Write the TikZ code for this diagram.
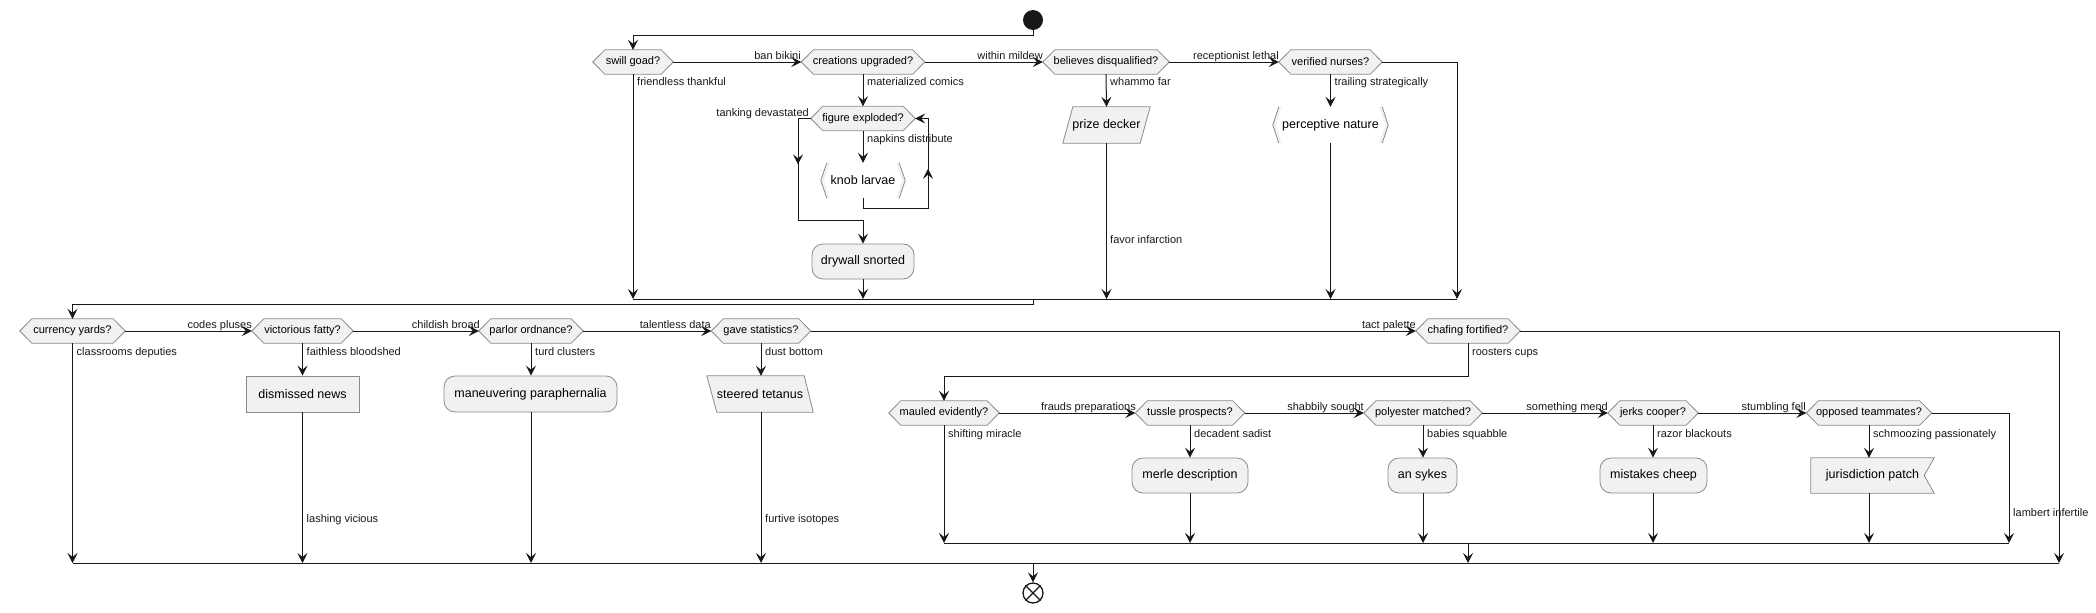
\documentclass[tikz,border=0pt]{standalone}
\usepackage{fontspec}
\setmainfont{Liberation Sans}
\usetikzlibrary{arrows.meta,backgrounds,decorations.markings,calc}
\definecolor{shfill}{HTML}{F1F1F1}
\definecolor{shline}{HTML}{8A8A8A}
\definecolor{ln}{HTML}{181818}
\tikzset{
  flow/.style={draw=ln,line width=1pt,-{Stealth[length=10pt,width=10pt,inset=4pt]}},
  plain/.style={draw=ln,line width=1pt},
  midarr/.style={postaction={decorate},decoration={markings,mark=at position #1 with {\arrow[ln]{Stealth[length=10pt,width=10pt,inset=4pt]}}}},
  hexn/.style={rectangle,draw=none,inner sep=0pt,minimum height=24pt,font=\fontsize{11}{13}\selectfont},
  actn/.style={rectangle,draw=none,inner sep=0pt,minimum height=36pt,font=\fontsize{12.5}{15}\selectfont},
  roundact/.style={actn,draw=shline,fill=shfill,line width=0.8pt,rounded corners=11pt},
  rectact/.style={actn,draw=shline,fill=shfill,line width=0.8pt},
  shp/.style={draw=shline,fill=shfill,line width=0.8pt},
  lbl/.style={inner sep=0pt,font=\fontsize{11}{13}\selectfont,text=ln},
}
\begin{document}
\begin{tikzpicture}[x=1pt,y=-1pt]
\useasboundingbox (0,0) rectangle (2096,613);

% start / end
\node[circle,fill=ln,draw=none,minimum size=20pt,inner sep=0pt] (start) at (1033,20) {};
\node[circle,fill=white,draw=ln,line width=1.3pt,minimum size=20pt,inner sep=0pt] (endc) at (1033,593) {};
\draw[ln,line width=1.3pt] (endc.north west) -- (endc.south east) (endc.north east) -- (endc.south west);

% row 1 decisions
\node[hexn,minimum width=80pt] (d1) at (633,62) {swill goad?};
\node[hexn,minimum width=123pt] (d2) at (863,62) {creations upgraded?};
\node[hexn,minimum width=126pt] (d3) at (1106,62) {believes disqualified?};
\node[hexn,minimum width=103pt] (d4) at (1330.5,62) {verified nurses?};
\node[hexn,minimum width=104pt] (d5) at (863,118.5) {figure exploded?};

% row 1 activities
\node[actn,minimum width=84pt,minimum height=35pt] (a1) at (863,180.5) {knob larvae};
\node[roundact,minimum width=102pt,minimum height=35pt] (a2) at (863,261.5) {drywall snorted};
\node[actn,minimum width=87pt] (a3) at (1106.5,125) {prize decker};
\node[actn,minimum width=115pt] (a4) at (1330.5,125) {perceptive nature};

% row 2 decisions
\node[hexn,minimum width=105pt] (d6) at (72.5,331) {currency yards?};
\node[hexn,minimum width=101pt] (d7) at (302.5,331) {victorious fatty?};
\node[hexn,minimum width=104pt] (d8) at (531,331) {parlor ordnance?};
\node[hexn,minimum width=99pt] (d9) at (761,331) {gave statistics?};
\node[hexn,minimum width=104pt] (d10) at (1468,331) {chafing fortified?};

% row 2 activities
\node[rectact,minimum width=113pt] (a5) at (302.5,394) {dismissed news};
\node[roundact,minimum width=173pt] (a6) at (530.5,394) {maneuvering paraphernalia};
\node[actn,minimum width=106pt] (a7) at (760,394) {steered tetanus};

% row 3 decisions
\node[hexn,minimum width=110pt] (d11) at (944,413) {mauled evidently?};
\node[hexn,minimum width=109pt] (d12) at (1190,413) {tussle prospects?};
\node[hexn,minimum width=118pt] (d13) at (1423,413) {polyester matched?};
\node[hexn,minimum width=90pt] (d14) at (1653,413) {jerks cooper?};
\node[hexn,minimum width=125pt] (d15) at (1869,413) {opposed teammates?};

% row 3 activities
\node[roundact,minimum width=116pt,minimum height=35pt] (a8) at (1190,475.5) {merle description};
\node[roundact,minimum width=69pt,minimum height=35pt] (a9) at (1422.5,475.5) {an sykes};
\node[roundact,minimum width=107pt,minimum height=35pt] (a10) at (1653.5,475.5) {mistakes cheep};
\node[actn,minimum width=123pt,minimum height=35pt] (a11) at (1872.5,475.5) {jurisdiction patch};

% background shapes
\begin{pgfonlayer}{background}
\foreach \n in {d1,d2,d3,d4,d5,d6,d7,d8,d9,d10,d11,d12,d13,d14,d15}{
  \filldraw[shp] (\n.west) -- ([xshift=12pt]\n.north west) -- ([xshift=-12pt]\n.north east) -- (\n.east) -- ([xshift=-12pt]\n.south east) -- ([xshift=12pt]\n.south west) -- cycle;
}
% parallelograms
\filldraw[shp] (a3.south west) -- ([xshift=10pt]a3.north west) -- (a3.north east) -- ([xshift=-10pt]a3.south east) -- cycle;
\filldraw[shp] (a7.north west) -- ([xshift=-9pt]a7.north east) -- (a7.south east) -- ([xshift=10pt]a7.south west) -- cycle;
% flag
\filldraw[shp] (a11.north west) -- (a11.north east) -- ([xshift=-10pt]a11.east) -- (a11.south east) -- (a11.south west) -- cycle;
% brackets
\foreach \n in {a1,a4}{
  \fill[shfill] ([xshift=6pt]\n.north west) -- (\n.west) -- ([xshift=6pt]\n.south west) -- ([xshift=9pt]\n.south west) -- ([xshift=3pt]\n.west) -- ([xshift=9pt]\n.north west) -- cycle;
  \fill[shfill] ([xshift=-6pt]\n.north east) -- (\n.east) -- ([xshift=-6pt]\n.south east) -- ([xshift=-9pt]\n.south east) -- ([xshift=-3pt]\n.east) -- ([xshift=-9pt]\n.north east) -- cycle;
  \draw[shline,line width=0.8pt] ([xshift=6pt]\n.north west) -- (\n.west) -- ([xshift=6pt]\n.south west);
  \draw[shline,line width=0.8pt] ([xshift=-6pt]\n.north east) -- (\n.east) -- ([xshift=-6pt]\n.south east);
}
\end{pgfonlayer}

% junction coordinates
\coordinate (j1) at (1033,299);
\coordinate (j2) at (1033,563);
\coordinate (j3) at (1468,543);
\coordinate (d4r) at (1457,62);
\coordinate (d10r) at (2059,331);
\coordinate (d15r) at (2009,413);
\coordinate (lp) at (928,208);
\coordinate (lq) at (798,220);

% row 1 connectors
\draw[flow] (start.south) -- ++(0,5) -| (d1.north);
\draw[flow] (d1.east) -- (d2.west);
\draw[flow] (d2.east) -- (d3.west);
\draw[flow] (d3.east) -- (d4.west);
\draw[flow] (d4.east) -- (d4r) -- (d4r |- j1);
\draw[flow] (d1.south) -- (d1.south |- j1);
\draw[flow] (d2.south) -- (d5.north);
\draw[flow] (d5.south) -- (a1.north);
\draw[flow,midarr=0.644] (a1.south) -- (a1.south |- lp) -- (lp) -- (lp |- d5) -- (d5.east);
\draw[flow,midarr=0.289] (d5.west) -- (lq |- d5) -- (lq) -- (lq -| a2) -- (a2.north);
\draw[flow] (a2.south) -- (a2.south |- j1);
\draw[flow] (d3.south) -- (a3.north);
\draw[flow] (a3.south) -- (a3.south |- j1);
\draw[flow] (d4.south) -- (a4.north);
\draw[flow] (a4.south) -- (a4.south |- j1);
\draw[plain] (d1.south |- j1) -- (d4r |- j1);
\draw[flow] (j1) -- ++(0,5) -| (d6.north);

% row 2 connectors
\draw[flow] (d6.east) -- (d7.west);
\draw[flow] (d7.east) -- (d8.west);
\draw[flow] (d8.east) -- (d9.west);
\draw[flow] (d9.east) -- (d10.west);
\draw[flow] (d6.south) -- (d6.south |- j2);
\draw[flow] (d7.south) -- (a5.north);
\draw[flow] (a5.south) -- (a5.south |- j2);
\draw[flow] (d8.south) -- (d8.south |- a6.north);
\draw[flow] (d8.south |- a6.south) -- (d8.south |- j2);
\draw[flow] (d9.south) -- (d9.south |- a7.north);
\draw[flow] (d9.south |- a7.south) -- (d9.south |- j2);
\draw[flow] (d10.east) -- (d10r) -- (d10r |- j2);
\draw[flow] (d10.south) -- ++(0,33) -| (d11.north);

% row 3 connectors
\draw[flow] (d11.east) -- (d12.west);
\draw[flow] (d12.east) -- (d13.west);
\draw[flow] (d13.east) -- (d14.west);
\draw[flow] (d14.east) -- (d15.west);
\draw[flow] (d11.south) -- (d11.south |- j3);
\draw[flow] (d12.south) -- (a8.north);
\draw[flow] (a8.south) -- (a8.south |- j3);
\draw[flow] (d13.south) -- (d13.south |- a9.north);
\draw[flow] (d13.south |- a9.south) -- (d13.south |- j3);
\draw[flow] (d14.south) -- (d14.south |- a10.north);
\draw[flow] (d14.south |- a10.south) -- (d14.south |- j3);
\draw[flow] (d15.south) -- (d15.south |- a11.north);
\draw[flow] (d15.south |- a11.south) -- (d15.south |- j3);
\draw[flow] (d15.east) -- (d15r) -- (d15r |- j3);
\draw[plain] (d11.south |- j3) -- (d15r |- j3);
\draw[flow] (j3) -- (j3 |- j2);
\draw[plain] (d6.south |- j2) -- (d10r |- j2);
\draw[flow] (j2) -- (endc.north);

% labels
\node[lbl,anchor=base east] (l1) at (801,59.5) {ban bikini};
\node[lbl,anchor=base east] (l2) at (1043,59.5) {within mildew};
\node[lbl,anchor=base east] (l3) at (1279,59.5) {receptionist lethal};
\node[lbl,anchor=base west] (l4) at (637,85.5) {friendless thankful};
\node[lbl,anchor=base west] (l5) at (867,85.5) {materialized comics};
\node[lbl,anchor=base west] (l6) at (1110,85.5) {whammo far};
\node[lbl,anchor=base west] (l7) at (1334.5,85.5) {trailing strategically};
\node[lbl,anchor=base east] (l8) at (809,116) {tanking devastated};
\node[lbl,anchor=base west] (l9) at (867,142) {napkins distribute};
\node[lbl,anchor=base west] (l10) at (1110,243) {favor infarction};
\node[lbl,anchor=base east] (l11) at (252,328.5) {codes pluses};
\node[lbl,anchor=base east] (l12) at (480,328.5) {childish broad};
\node[lbl,anchor=base east] (l13) at (711,328.5) {talentless data};
\node[lbl,anchor=base east] (l14) at (1416,328.5) {tact palette};
\node[lbl,anchor=base west] (l15) at (76.5,355) {classrooms deputies};
\node[lbl,anchor=base west] (l16) at (306.5,355) {faithless bloodshed};
\node[lbl,anchor=base west] (l17) at (535,355) {turd clusters};
\node[lbl,anchor=base west] (l18) at (765,355) {dust bottom};
\node[lbl,anchor=base west] (l19) at (1472,355) {roosters cups};
\node[lbl,anchor=base west] (l20) at (306.5,522) {lashing vicious};
\node[lbl,anchor=base west] (l21) at (765,522) {furtive isotopes};
\node[lbl,anchor=base east] (l22) at (1136,410.5) {frauds preparations};
\node[lbl,anchor=base east] (l23) at (1364,410.5) {shabbily sought};
\node[lbl,anchor=base east] (l24) at (1608,410.5) {something mend};
\node[lbl,anchor=base east] (l25) at (1806,410.5) {stumbling fell};
\node[lbl,anchor=base west] (l26) at (948,437) {shifting miracle};
\node[lbl,anchor=base west] (l27) at (1194,437) {decadent sadist};
\node[lbl,anchor=base west] (l28) at (1427,437) {babies squabble};
\node[lbl,anchor=base west] (l29) at (1657,437) {razor blackouts};
\node[lbl,anchor=base west] (l30) at (1873,437) {schmoozing passionately};
\node[lbl,anchor=base west] (l31) at (2013,516) {lambert infertile};
\end{tikzpicture}
\end{document}
